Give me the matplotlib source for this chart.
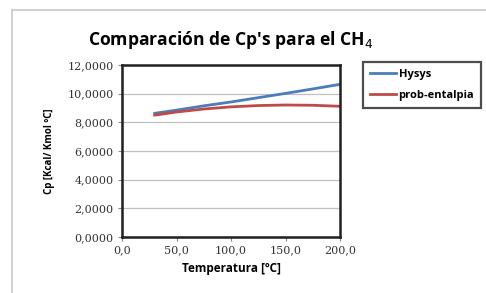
import numpy as np
import matplotlib.pyplot as plt
from matplotlib.lines import Line2D
from matplotlib.ticker import FuncFormatter

### Data
temp      = [30, 50, 75, 100, 125, 150, 175, 200]  # ºC
cp_hysys  = [8.63, 8.85, 9.15, 9.42, 9.72, 10.02, 10.33, 10.65]
cp_entalp = [8.50, 8.72, 8.93, 9.08, 9.17, 9.21, 9.19, 9.12]

x_ticks = [0, 50, 100, 150, 200]
y_ticks = [0, 2, 4, 6, 8, 10, 12]

### Plot
fig = plt.figure(figsize=(4.86, 2.93), dpi=100)
W, H = 486, 293

# gray chart-area border, only left and top edges are in view
x0, y0 = 12 / W, 1 - 10 / H
fig.add_artist(Line2D([x0, x0], [0, y0], transform=fig.transFigure, color='#c8c8c8', linewidth=1.2))
fig.add_artist(Line2D([x0, 1], [y0, y0], transform=fig.transFigure, color='#c8c8c8', linewidth=1.2))

ax = fig.add_axes([122 / W, 1 - 237 / H, 218 / W, 172 / H])

ax.plot(temp, cp_hysys, color='#4a7ebb', linewidth=2, label='Hysys')
ax.plot(temp, cp_entalp, color='#be4b48', linewidth=2, label='prob-entalpia')

ax.set_xlim(0, 200)
ax.set_ylim(0, 12)
ax.set_xticks(x_ticks)
ax.set_yticks(y_ticks)
ax.xaxis.set_major_formatter(FuncFormatter(lambda v, p: f'{v:.1f}'.replace('.', ',')))
ax.yaxis.set_major_formatter(FuncFormatter(lambda v, p: f'{v:.4f}'.replace('.', ',')))
ax.grid(axis='y', color='#c0c0c0', linewidth=0.9)
ax.set_axisbelow(True)

for sp in ax.spines.values():
    sp.set_linewidth(1.8)
    sp.set_color('#202020')
ax.tick_params(length=3, width=0.8, color='#888888', labelsize=8, pad=3)
for lab in ax.get_xticklabels() + ax.get_yticklabels():
    lab.set_family('DejaVu Serif')
    lab.set_color('#333333')

ax.set_xlabel('Temperatura [ºC]', fontsize=8.5, fontweight='bold', family='Open Sans', labelpad=5)
ax.set_ylabel('Cp [Kcal/ Kmol ºC]', fontsize=7, fontweight='bold', family='Open Sans', labelpad=9)

fig.text(231 / W, 1 - 40 / H, "Comparación de Cp's para el CH$_4$", ha='center', va='center',
         fontsize=12.6, fontweight='bold', family='Open Sans')

leg = ax.legend(loc='upper left', bbox_to_anchor=(363 / W, 1 - 62 / H), bbox_transform=fig.transFigure,
                borderaxespad=0, fancybox=False, edgecolor='#202020', handlelength=2.4,
                handletextpad=0.2, borderpad=0.6, labelspacing=0.95,
                prop={'family': 'Open Sans', 'weight': 'bold', 'size': 8})
leg.get_frame().set_linewidth(1.6)

plt.savefig('out.png', dpi=100)
